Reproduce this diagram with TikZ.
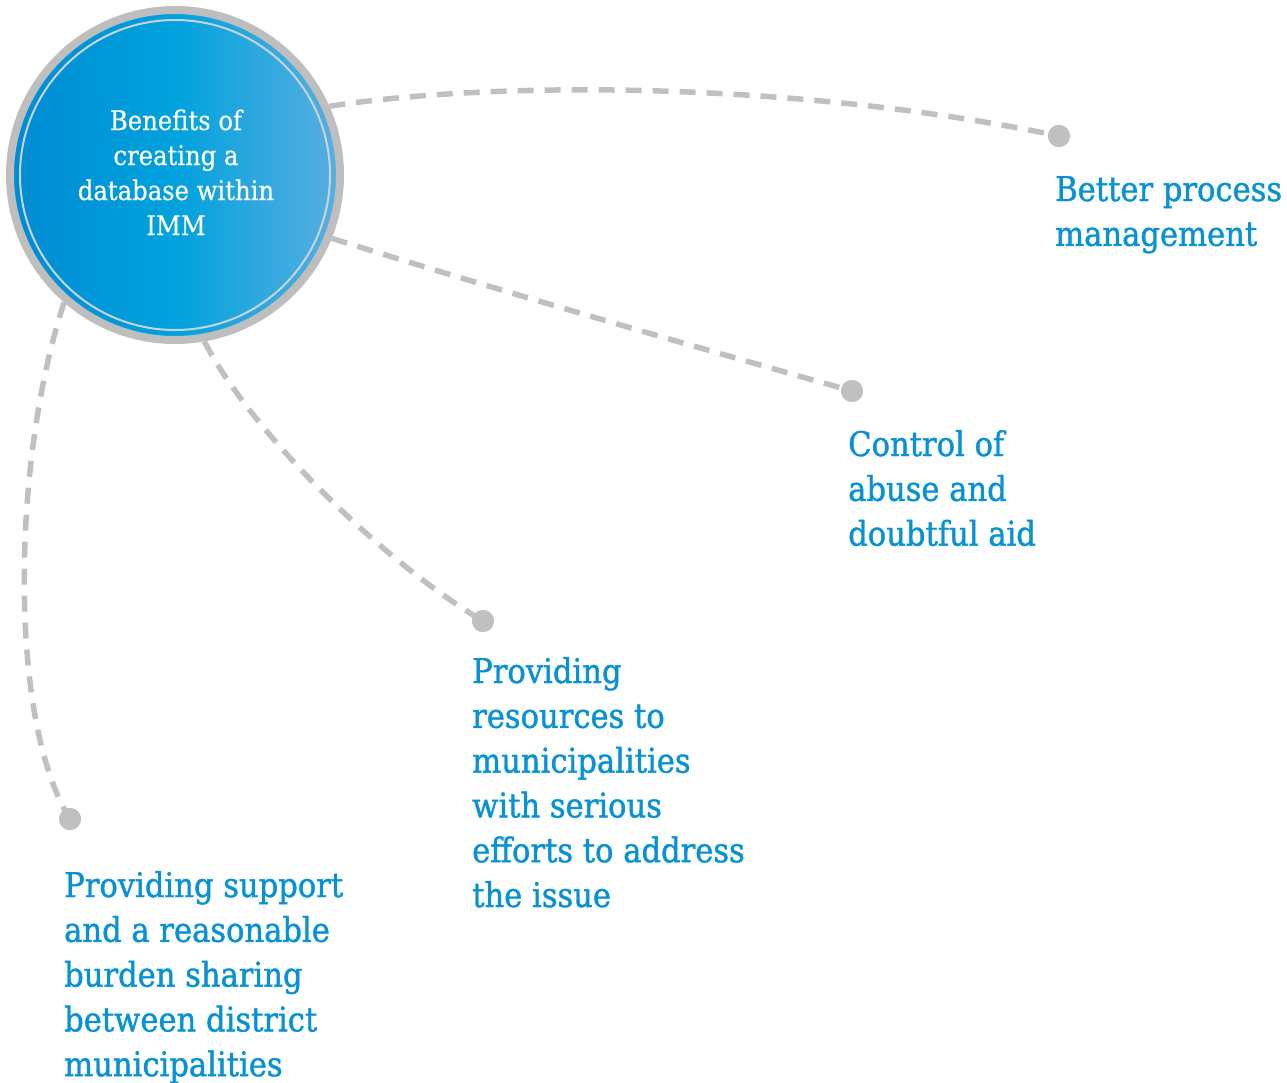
\documentclass[tikz,border=0pt]{standalone}
\usepackage{fontspec}
\newfontfamily\slab[FakeStretch=0.9,FakeBold=1.2]{DejaVu Serif}
\newfontfamily\slabc[FakeStretch=0.9,FakeBold=0.5]{DejaVu Serif}
\definecolor{tblue}{HTML}{0892D4}
\definecolor{lgray}{HTML}{C0C0C0}
\definecolor{ringgray}{HTML}{BEBEBE}
\definecolor{cleft}{HTML}{008BD3}
\definecolor{cmid}{HTML}{00A2DD}
\definecolor{cright}{HTML}{5AAEE0}
\definecolor{innerl}{HTML}{C9D3DC}
\begin{document}
\begin{tikzpicture}[x=1pt,y=-1pt,
  conn/.style={draw=lgray, line width=5.5pt, dash pattern=on 16pt off 11pt},
  dotnode/.style={circle, fill=lgray, minimum size=22pt, inner sep=0pt},
  lbl/.style={anchor=base west, align=left, inner sep=0pt, text=tblue,
    font=\slab\fontsize{34}{44.8}\selectfont},
  ctext/.style={align=center, inner sep=0pt, text=white,
    font=\slabc\fontsize{27}{35}\selectfont}]
\useasboundingbox (0,0) rectangle (1287,1082);

% central circle
\node[circle, minimum size=330pt, inner sep=0pt, draw=ringgray, line width=8pt,
  left color=cleft, right color=cright, middle color=cmid] (c) at (175,175) {};
\draw[innerl, line width=2pt] (c.center) circle (155);
% base anchor = baseline of last line
\node[ctext, anchor=base] (ct) at (176,235) {Benefits of\\creating a\\database within\\IMM};

% dots
\node[dotnode] (d1) at (1059,136) {};
\node[dotnode] (d2) at (852,391) {};
\node[dotnode] (d3) at (483,621) {};
\node[dotnode] (d4) at (70,819) {};

% connectors
\draw[conn] (c.24) .. controls (500,80) and (800,82) .. (d1.center);
\draw[conn] (c.-22) .. controls (504,292) and (678,342) .. (d2.center);
\draw[conn] (c.-80) .. controls (250,430) and (380,560) .. (d3.center);
\draw[conn] (c.-131) .. controls (12,460) and (8,720) .. (d4.center);

% dots on top of the line ends
\node[dotnode] at (d1) {};
\node[dotnode] at (d2) {};
\node[dotnode] at (d3) {};
\node[dotnode] at (d4) {};

% labels (anchored at the baseline of their last line)
\node[lbl] (l1) at (1055,245.8) {Better process\\management};
\node[lbl] (l2) at (848,545.6) {Control of\\abuse and\\doubtful aid};
\node[lbl] (l3) at (472,907) {Providing\\resources to\\municipalities\\with serious\\efforts to address\\the issue};
\node[lbl] (l4) at (64,1076.2) {Providing support\\and a reasonable\\burden sharing\\between district\\municipalities};
\end{tikzpicture}
\end{document}
